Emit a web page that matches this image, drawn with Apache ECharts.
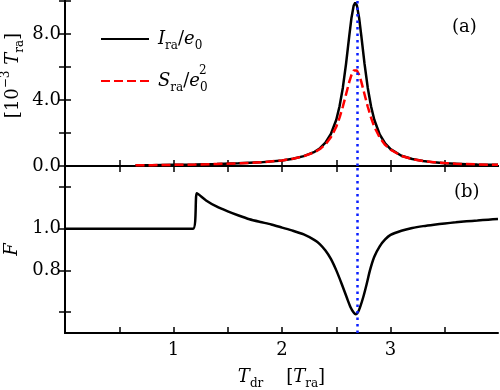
<!DOCTYPE html>
<html><head><meta charset="utf-8">
<script src="https://cdn.jsdelivr.net/npm/echarts@6/dist/echarts.min.js"></script>
<style>html,body{margin:0;padding:0;background:#fff}#c{width:500px;height:390px}</style>
</head><body><div id="c"></div>
<script>
// ---- data ----
const xTop = [0.65,0.8,1.0,1.2,1.4,1.6,1.8,2.0,2.1,2.2,2.3,2.35,2.4,2.45,2.5,2.53,2.56,2.59,2.62,2.64,2.66,2.675,2.69,2.71,2.73,2.76,2.79,2.82,2.85,2.9,2.95,3.0,3.1,3.2,3.3,3.4,3.5,3.6,3.7,3.8,3.9,3.99];
const iraValues = [0.04,0.05,0.07,0.09,0.12,0.16,0.22,0.34,0.44,0.6,0.86,1.08,1.41,1.94,2.8,3.62,4.73,6.2,7.92,8.99,9.72,9.9,9.72,8.99,7.92,6.2,4.73,3.62,2.8,1.91,1.37,1.02,0.62,0.42,0.3,0.22,0.17,0.14,0.11,0.09,0.08,0.07];
const sraValues = [0.04,0.05,0.07,0.09,0.12,0.16,0.22,0.34,0.44,0.59,0.84,1.03,1.31,1.74,2.38,2.93,3.59,4.35,5.11,5.53,5.79,5.85,5.79,5.53,5.11,4.35,3.59,2.93,2.38,1.72,1.28,0.99,0.61,0.42,0.3,0.23,0.18,0.14,0.12,0.1,0.08,0.07];
const xF = [0,1.18,1.215,1.3,1.4,1.5,1.6,1.7,1.8,1.9,2.0,2.1,2.2,2.3,2.35,2.4,2.45,2.5,2.55,2.6,2.63,2.66,2.68,2.7,2.72,2.75,2.78,2.81,2.85,2.9,2.95,3.0,3.1,3.2,3.3,3.4,3.5,3.6,3.7,3.8,3.9,3.99];
const fValues = [1.0,1.0,1.17,1.135,1.105,1.083,1.063,1.045,1.032,1.02,1.005,0.99,0.972,0.945,0.925,0.895,0.855,0.8,0.735,0.665,0.625,0.598,0.59,0.6,0.625,0.675,0.735,0.8,0.865,0.915,0.948,0.97,0.99,1.003,1.012,1.019,1.025,1.03,1.035,1.039,1.043,1.046];
const markerX = 2.685;
const xTicks = [0.5,1,1.5,2,2.5,3,3.5];
const xTickLabels = [1,2,3];
const topTicks = [0,2,4,6,8,10];
const topTickLabels = [0,4,8];
const botTicks = [0.6,0.8,1.0,1.2];
const botTickLabels = [0.8,1.0];

const FONT = 'DejaVu Serif';
const pair = (xs, ys) => xs.map((x, i) => [x, ys[i]]);
const rich = {
  n: {fontFamily: FONT, fontSize: 18, color: '#000', lineHeight: 26, verticalAlign: 'middle'},
  it: {fontFamily: FONT, fontStyle: 'italic', fontSize: 18, color: '#000', lineHeight: 26, verticalAlign: 'middle'},
  sub: {fontFamily: FONT, fontSize: 12, color: '#000', lineHeight: 12, verticalAlign: 'bottom'},
  sup: {fontFamily: FONT, fontSize: 12, color: '#000', lineHeight: 12, verticalAlign: 'top'}
};
const line = {lineStyle: {color: '#000', width: 2}};
const tick = {inside: true, length: 6, lineStyle: {color: '#000', width: 1.5}};
function xAx(grid, pos, labels, extra) {
  return Object.assign({
    type: 'value', gridIndex: grid, position: pos, min: 0, max: 3.99, nameMoveOverlap: false,
    axisLine: line, splitLine: {show: false},
    axisTick: Object.assign({customValues: xTicks}, tick),
    axisLabel: labels ? {customValues: xTickLabels, fontFamily: FONT, fontSize: 18, color: '#000', margin: 8, formatter: v => String(v)} : {show: false}
  }, extra || {});
}
function yAx(grid, pos, min, max, ticks, labels, fmt, extra) {
  return Object.assign({
    type: 'value', gridIndex: grid, position: pos, min: min, max: max, nameMoveOverlap: false,
    axisLine: line, splitLine: {show: false},
    axisTick: Object.assign({customValues: ticks}, tick),
    axisLabel: labels ? {customValues: labels, fontFamily: FONT, fontSize: 18, color: '#000', margin: 4, formatter: fmt} : {show: false}
  }, extra || {});
}
const mark = {
  silent: true, symbol: 'none', z: 10, animation: false,
  label: {show: false},
  lineStyle: {color: '#0a1eff', type: [2.5, 4], width: 2.5},
  data: [{xAxis: markerX}]
};
const chart = echarts.init(document.getElementById('c'), null, {renderer: 'canvas'});
chart.setOption({
  animation: false,
  backgroundColor: '#fff',
  grid: [
    {left: 65, right: 2, top: 1, height: 165, outerBoundsMode: 'none', containLabel: false},
    {left: 65, right: 2, top: 166, height: 167, outerBoundsMode: 'none', containLabel: false}
  ],
  xAxis: [
    xAx(0, 'bottom', false),
    xAx(0, 'top', false),
    xAx(1, 'bottom', true, {
      name: '{it|T}{sub|dr}{n|    [}{it|T}{sub|ra}{n|]}', nameLocation: 'middle', nameGap: 31,
      nameTextStyle: {rich: rich}
    }),
    xAx(1, 'top', false)
  ],
  yAxis: [
    yAx(0, 'left', 0, 10, topTicks, topTickLabels, v => v.toFixed(1), {
      name: '{n|[10}{sup|−3}{it| T}{sub|ra}{n|]}', nameLocation: 'middle', nameGap: 39,
      nameTextStyle: {rich: rich, padding: [0, 0, 0, 16]}
    }),
    yAx(0, 'right', 0, 10, topTicks, null),
    yAx(1, 'left', 0.5, 1.3, botTicks, botTickLabels, v => v.toFixed(1), {
      name: '{it|F}', nameLocation: 'middle', nameGap: 40,
      nameTextStyle: {rich: rich}
    }),
    yAx(1, 'right', 0.5, 1.3, botTicks, null)
  ],
  legend: {
    data: ['I', 'S'], orient: 'vertical', left: 95, top: 25,
    itemWidth: 48, itemHeight: 14, itemGap: 20,
    itemStyle: {opacity: 0},
    formatter: n => n === 'I' ? '{it|I}{sub|ra}{n|/}{it|e}{sub|0}' : '{it|S}{sub|ra}{n|/}{it|e}{sub|0}',
    textStyle: {rich: rich, padding: [0, 0, 0, 4]}
  },
  graphic: [
    {type: 'text', left: 452, top: 18, style: {text: '(a)', font: '18px "DejaVu Serif"', fill: '#000'}},
    {type: 'text', left: 454, top: 183, style: {text: '(b)', font: '18px "DejaVu Serif"', fill: '#000'}},
    {type: 'text', left: 199, top: 65, style: {text: '2', font: '12px "DejaVu Serif"', fill: '#000'}}
  ],
  series: [
    {name: 'I', type: 'line', xAxisIndex: 0, yAxisIndex: 0, data: pair(xTop, iraValues),
      symbol: 'none', lineStyle: {color: '#000', width: 2.5}, itemStyle: {color: '#000'}, z: 3, markLine: mark},
    {name: 'S', type: 'line', xAxisIndex: 0, yAxisIndex: 0, data: pair(xTop, sraValues),
      symbol: 'none', lineStyle: {color: '#ff0000', width: 2.5, type: [9, 4]}, itemStyle: {color: '#ff0000'}, z: 4},
    {name: 'F', type: 'line', xAxisIndex: 2, yAxisIndex: 2, data: pair(xF, fValues), smooth: 0.2,
      symbol: 'none', lineStyle: {color: '#000', width: 2.5}, itemStyle: {color: '#000'}, z: 3, markLine: mark}
  ]
});
</script></body></html>
